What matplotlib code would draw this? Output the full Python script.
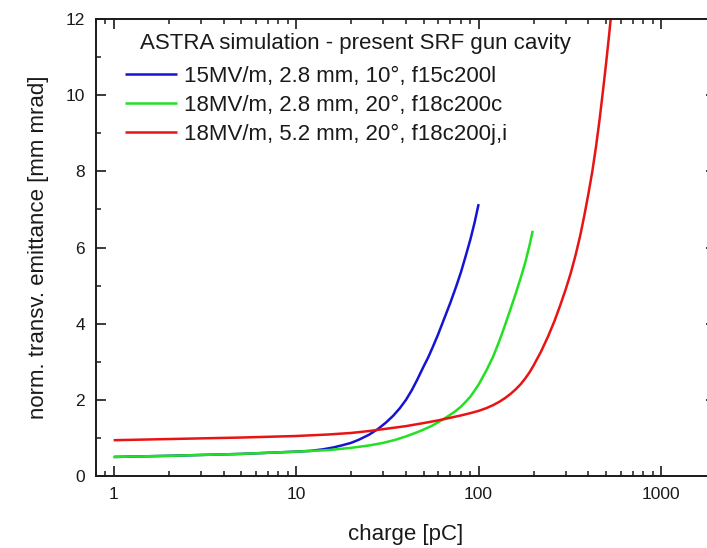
import matplotlib
matplotlib.use("Agg")
import matplotlib.pyplot as plt
from matplotlib.ticker import LogLocator, FixedLocator, NullFormatter, FuncFormatter

plt.rcParams['font.family'] = ['Liberation Sans', 'DejaVu Sans']

# Emittance vs. bunch charge for three gun settings
q_blue = [1, 2, 5, 10, 12, 14, 16, 18, 20, 22, 25, 28, 31, 34, 37, 40, 43, 46,
          50, 53, 56, 60, 65, 70, 75, 80, 85, 90, 95, 100]
e_blue = [0.50, 0.53, 0.58, 0.64, 0.66, 0.70, 0.75, 0.81, 0.87, 0.95, 1.08, 1.23,
          1.40, 1.58, 1.78, 2.00, 2.25, 2.52, 2.88, 3.12, 3.38, 3.72, 4.15, 4.55,
          4.95, 5.35, 5.78, 6.20, 6.65, 7.14]

q_green = [1, 2, 5, 10, 15, 20, 25, 30, 35, 40, 45, 50, 55, 60, 65, 70, 75, 80,
           85, 90, 95, 100, 110, 120, 130, 140, 150, 160, 170, 180, 190, 198]
e_green = [0.50, 0.53, 0.58, 0.64, 0.68, 0.74, 0.80, 0.87, 0.95, 1.04, 1.13, 1.22,
           1.31, 1.41, 1.51, 1.61, 1.71, 1.82, 1.95, 2.08, 2.24, 2.40, 2.76, 3.13,
           3.55, 3.98, 4.40, 4.80, 5.20, 5.60, 6.05, 6.44]

q_red = [1, 2, 5, 10, 15, 20, 25, 30, 40, 50, 60, 70, 80, 90, 100, 110, 120, 130,
         140, 150, 160, 170, 180, 190, 200, 220, 240, 260, 280, 300, 320, 340, 360,
         380, 400, 420, 440, 460, 480, 500, 520, 540, 560]
e_red = [0.94, 0.97, 1.01, 1.05, 1.09, 1.13, 1.18, 1.23, 1.31, 1.39, 1.46, 1.53,
         1.59, 1.65, 1.71, 1.78, 1.86, 1.95, 2.05, 2.16, 2.28, 2.41, 2.56, 2.72,
         2.90, 3.27, 3.66, 4.06, 4.48, 4.90, 5.33, 5.80, 6.30, 6.85, 7.42, 8.00,
         8.65, 9.35, 10.10, 10.85, 11.62, 12.40, 13.20]

labels = ["15MV/m, 2.8 mm, 10°, f15c200l",
          "18MV/m, 2.8 mm, 20°, f18c200c",
          "18MV/m, 5.2 mm, 20°, f18c200j,i"]
colors = ["#1414d2", "#22e022", "#e81414"]
title = "ASTRA simulation - present SRF gun cavity"

x_ticks = [1, 10, 100, 1000]
y_ticks = [0, 2, 4, 6, 8, 10, 12]

W, H = 707, 548
fig = plt.figure(figsize=(W / 100, H / 100), dpi=100)
ax = fig.add_axes([96 / W, (H - 476) / H, 620 / W, 457 / H])

for q, e, c, lab in zip([q_blue, q_green, q_red], [e_blue, e_green, e_red], colors, labels):
    ax.plot(q, e, color=c, lw=1.8, label=lab, solid_capstyle='butt',
            solid_joinstyle='round')

ax.set_xscale('log')
ax.set_xlim(0.8, 2000)
ax.set_ylim(0, 12)

ax.xaxis.set_major_locator(FixedLocator(x_ticks))
ax.xaxis.set_major_formatter(FuncFormatter(lambda v, p: f"{v:g}"))
ax.xaxis.set_minor_locator(LogLocator(base=10, subs=range(2, 10)))
ax.xaxis.set_minor_formatter(NullFormatter())
ax.set_yticks(y_ticks)
ax.set_yticks(range(1, 12, 2), minor=True)

txt = '#1a1a1a'
for s in ax.spines.values():
    s.set_linewidth(1.4)
    s.set_color('#1a1a1a')
ax.tick_params(which='both', direction='in', top=True, right=True,
               color='#1a1a1a', labelsize=12.5, labelcolor=txt, pad=8)
ax.tick_params(which='major', length=7, width=1.2)
ax.tick_params(which='minor', length=3.5, width=1.1)

ax.set_xlabel("charge [pC]", fontsize=16, color=txt, labelpad=16)
ax.set_ylabel("norm. transv. emittance [mm mrad]", fontsize=16, color=txt, labelpad=12)

ax.text((140 - 96) / 620, 1 - (43 - 19) / 457, title, transform=ax.transAxes,
        ha='left', va='center', fontsize=16, color=txt)
ax.legend(loc='upper left', bbox_to_anchor=((125 - 96) / 620, 1 - (66 - 19) / 457),
          frameon=False, fontsize=16, borderpad=0, borderaxespad=0,
          handlelength=2.35, handletextpad=0.32, labelspacing=0.35,
          labelcolor=txt)

fig.savefig("out.png", dpi=100)
